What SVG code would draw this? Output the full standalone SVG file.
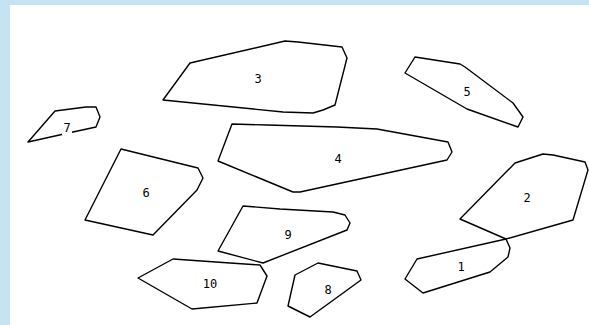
<svg xmlns="http://www.w3.org/2000/svg" width="589" height="325" viewBox="0 0 589 325">
<style>
.p{fill:none;stroke:#000;stroke-width:1.4;stroke-linejoin:round}
.t{font-family:"DejaVu Sans Mono","Liberation Mono",monospace;font-size:12px;fill:#000;text-anchor:middle;dominant-baseline:central}
.bg{fill:#fff}
</style>
<rect width="589" height="325" fill="#C5E3F3"/>
<rect x="10" y="5" width="579" height="320" fill="#fff"/>
<g id="connectors"></g>
<g id="n7"><polygon class="p" points="28,142 55,111 86,107 96,107 100,117 96,127 73,132"/><rect class="bg" x="62" y="121" width="10" height="14"/><text class="t" x="67" y="128">7</text></g>
<g id="n3"><polygon class="p" points="163,100 190,63 285,41 298,42 342,47 347,58 335,105 323,110 313,113 283,112"/><text class="t" x="258" y="79">3</text></g>
<g id="n5"><polygon class="p" points="405,73 415,57 460,64 465,67 513,103 523,117 518,127 467,109"/><text class="t" x="467" y="92">5</text></g>
<g id="n4"><polygon class="p" points="232,124 267,125 337,127 377,129 448,142 452,152 447,160 300,192 293,192 218,161"/><text class="t" x="338" y="159">4</text></g>
<g id="n6"><polygon class="p" points="121,149 198,168 203,178 197,190 153,235 85,220"/><text class="t" x="146" y="193">6</text></g>
<g id="n2"><polygon class="p" points="515,163 543,154 553,155 585,162 588,170 573,220 506,239 460,219"/><text class="t" x="527" y="198">2</text></g>
<g id="n1"><polygon class="p" points="506,239 510,248 508,257 490,272 423,293 405,279 417,259"/><text class="t" x="461" y="267">1</text></g>
<g id="n9"><polygon class="p" points="243,206 280,209 333,212 345,215 350,223 347,230 263,263 218,251"/><text class="t" x="288" y="235">9</text></g>
<g id="n10"><polygon class="p" points="138,278 173,259 230,263 260,265 267,276 257,303 192,309"/><text class="t" x="210" y="284">10</text></g>
<g id="n8"><polygon class="p" points="295,275 318,263 357,271 361,280 310,317 288,306"/><text class="t" x="328" y="290">8</text></g>
</svg>
